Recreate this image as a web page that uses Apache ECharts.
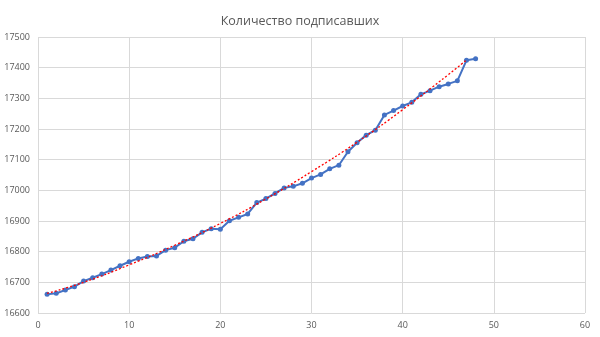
<!DOCTYPE html>
<html><head><meta charset="utf-8">
<script src="https://cdn.jsdelivr.net/npm/echarts@6/dist/echarts.min.js"></script>
<style>html,body{margin:0;padding:0;background:#fff}#c{width:600px;height:337px}</style>
</head><body><div id="c"></div>
<script>
const title = "Количество подписавших";
const xValues = [1,2,3,4,5,6,7,8,9,10,11,12,13,14,15,16,17,18,19,20,21,22,23,24,25,26,27,28,29,30,31,32,33,34,35,36,37,38,39,40,41,42,43,44,45,46,47,48];
const signed = [16661,16664,16675,16686,16704,16715,16727,16740,16754,16767,16778,16784,16786,16805,16813,16834,16842,16863,16875,16873,16901,16912,16923,16960,16973,16990,17008,17013,17023,17040,17052,17070,17082,17126,17155,17180,17196,17246,17260,17275,17287,17313,17325,17338,17347,17357,17424,17429];
const trendX = [1,5,10,15,20,25,30,35,40,45,47];
const trendY = [16664,16700,16757,16821,16892,16972,17061,17157,17263,17377,17425];
const xTicks = {min:0, max:60, interval:10};
const yTicks = {min:16600, max:17500, interval:100};

const chart = echarts.init(document.getElementById('c'), null, {renderer:'canvas'});
const lab = {color:'#595959', fontSize:9, fontFamily:'Open Sans'};
chart.setOption({
  backgroundColor:'#fff',
  animation:false,
  title:{text:title, left:'center', top:10, textStyle:{color:'#595959', fontSize:12.5, fontWeight:'normal', fontFamily:'Open Sans'}},
  grid:{left:38, right:15, top:37, bottom:24},
  xAxis:{type:'value', min:xTicks.min, max:xTicks.max, interval:xTicks.interval,
    axisLine:{show:false}, axisTick:{show:false},
    splitLine:{show:true, lineStyle:{color:'#D9D9D9', width:1}},
    axisLabel:Object.assign({margin:8, formatter:v=>String(v)}, lab)},
  yAxis:{type:'value', min:yTicks.min, max:yTicks.max, interval:yTicks.interval,
    axisLine:{show:false}, axisTick:{show:false},
    splitLine:{show:true, lineStyle:{color:'#D9D9D9', width:1}},
    axisLabel:Object.assign({margin:8, formatter:v=>String(v)}, lab)},
  series:[
    {type:'line', data:xValues.map((x,i)=>[x,signed[i]]), symbol:'circle', symbolSize:5,
      lineStyle:{color:'#4472C4', width:2}, itemStyle:{color:'#4472C4'}, z:2},
    {type:'line', data:trendX.map((x,i)=>[x,trendY[i]]), smooth:true, symbol:'none',
      lineStyle:{color:'#FF0000', width:1.3, type:[2,2]}, z:3}
  ]
});
</script></body></html>
